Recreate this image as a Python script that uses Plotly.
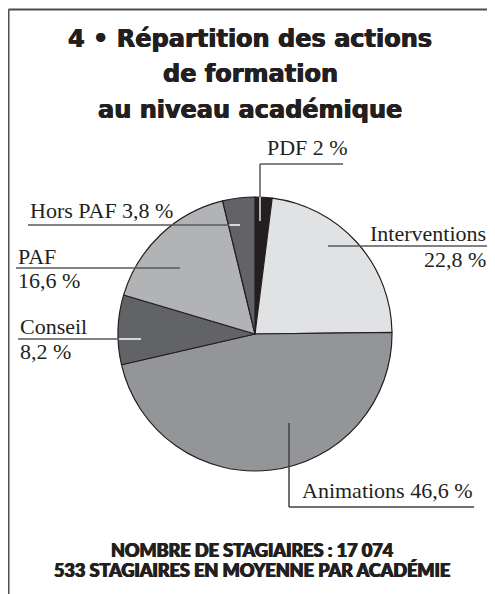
import math
import plotly.graph_objects as go

# ---- data ----
categories = ["PDF", "Interventions", "Animations", "Conseil", "PAF", "Hors PAF"]
values = [2, 22.8, 46.6, 8.2, 16.6, 3.8]
pct_labels = ["2 %", "22,8 %", "46,6 %", "8,2 %", "16,6 %", "3,8 %"]
colors = ["#231f20", "#e1e2e3", "#939598", "#626366", "#b1b3b5", "#626366"]

# page body has an 8px margin -> figure is offset by 8px
OFF = 8
W, H = 495 - OFF, 594 - OFF
CX, CY, R = 255, 334, 137   # reference-pixel geometry

def px(x):
    return (x - OFF) / W

def py(y):
    return 1 - (y - OFF) / H

fig = go.Figure(go.Pie(
    labels=categories, values=values, sort=False, direction="clockwise",
    rotation=0, textinfo="none", hoverinfo="label+percent",
    marker=dict(colors=colors, line=dict(color="#231f20", width=1.2)),
    domain=dict(x=[px(CX - R), px(CX + R)], y=[py(CY + R), py(CY - R)]),
    showlegend=False,
))

SERIF = "Liberation Serif"
HEAVY = "Lato Black, Lato"
TITLE = "DejaVu Sans"
LBL = 22
INK = "#231f20"
LEAD = "#58595b"

annotations = []
def text(t, x, y, anchor="left", size=LBL, family=SERIF, color=INK, weight=None, shadow=None):
    f = dict(family=family, size=size, color=color)
    if weight:
        f["weight"] = weight
    if shadow:
        f["shadow"] = shadow
    annotations.append(dict(text=t, x=px(x), y=py(y), xref="paper", yref="paper",
                            xanchor=anchor, yanchor="middle", showarrow=False, font=f))

shapes = []
def seg(x0, y0, x1, y1, color=LEAD, w=1.5):
    shapes.append(dict(type="line", xref="paper", yref="paper", x0=px(x0), y0=py(y0),
                       x1=px(x1), y1=py(y1), line=dict(color=color, width=w)))

def edge_x_left(y):
    return CX - math.sqrt(R * R - (y - CY) ** 2)

# frame
seg(8.5, 9.5, 8.5, 594, color="#4d4d4f", w=2)
seg(8.5, 9.5, 495, 9.5, color="#4d4d4f", w=2)

# title
heavy_sh = "0.5px 0 0 #231f20, -0.5px 0 0 #231f20"
text("4 • Répartition des actions", 250, 39, "center", 24, TITLE, INK, "bold", heavy_sh)
text("de formation", 250, 74, "center", 24, TITLE, INK, "bold", heavy_sh)
text("au niveau académique", 250, 110, "center", 24, TITLE, INK, "bold", heavy_sh)

# PDF
text(f"{categories[0]} {pct_labels[0]}", 265, 147, "left")
seg(260, 221, 260, 164)
seg(260, 164, 343, 164)
seg(260, CY - math.sqrt(R * R - 25), 260, 221, color="#d9d9d9")

# Interventions
text(categories[1], 488, 233, "right")
text(pct_labels[1], 488, 259, "right")
seg(328, 246, 488, 246)

# Animations
text(f"{categories[2]} {pct_labels[2]}", 300, 490, "left")
seg(289, 423, 289, 507, color="#414042")
seg(289, 507, 474, 507, color="#414042")

# Conseil
text(categories[3], 18, 326, "left")
text(pct_labels[3], 18, 351, "left")
seg(18, 339, 141, 339)
seg(edge_x_left(339) + 1, 339, 141, 339, color="#ffffff")

# PAF
text(categories[4], 16, 256, "left")
text(pct_labels[4], 16, 281, "left")
seg(16, 268, 180, 268)

# Hors PAF
text(f"{categories[5]} {pct_labels[5]}", 28, 210, "left")
seg(28, 225, 240, 225)
hx = CX - (CY - 225) * math.tan(math.radians(360 * values[5] / 100))
seg(hx + 1, 225, 240, 225, color="#ffffff")

# footer
foot_sh = "0.6px 0 0 #231f20, -0.6px 0 0 #231f20"
text("NOMBRE DE STAGIAIRES : 17 074", 253, 550, "center", 18, HEAVY, INK, 900, foot_sh)
text("533 STAGIAIRES EN MOYENNE PAR ACADÉMIE", 252, 570, "center", 18, HEAVY, INK, 900, foot_sh)

fig.update_layout(
    width=W, height=H, margin=dict(l=0, r=0, t=0, b=0),
    paper_bgcolor="white", plot_bgcolor="white",
    annotations=annotations, shapes=shapes,
)

fig.write_html("out.html")
